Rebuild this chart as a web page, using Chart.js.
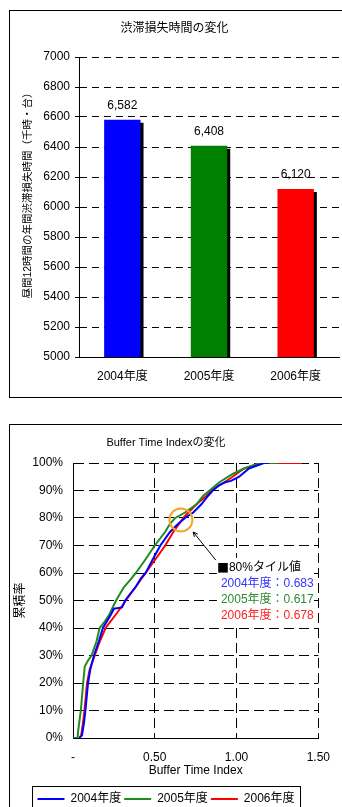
<!DOCTYPE html>
<html lang="ja">
<head>
<meta charset="utf-8">
<title>渋滞損失時間 / Buffer Time Index</title>
<script src="https://cdn.jsdelivr.net/npm/chart.js@4"></script>
<style>
  html, body { margin: 0; padding: 0; background: #fff; overflow: hidden; }
  body { width: 342px; height: 807px; position: relative; }
  .frame { position: absolute; left: 9px; width: 345px; border: 1px solid #000; }
  #frame1 { top: 10px; height: 386px; }
  #frame2 { top: 424px; height: 400px; }
  canvas { display: block; }
</style>
</head>
<body>
<div class="frame" id="frame1"><canvas id="lossChart" width="332" height="385"></canvas></div>
<div class="frame" id="frame2"><canvas id="btiChart" width="332" height="390"></canvas></div>
<script>
const FONT = "'Liberation Sans', 'Noto Sans CJK JP', sans-serif";
Chart.defaults.font.family = FONT;
Chart.defaults.font.size = 12;
Chart.defaults.color = '#000';

// 渋滞損失時間の変化
const fiscalYears = ['2004年度', '2005年度', '2006年度'];
const lossHours = [6582, 6408, 6120];

// Buffer Time Index の累積分布
const btiTickLabels = ['-', '0.50', '1.00', '1.50'];
const bti2004 = [0.04, 0.055, 0.066, 0.076, 0.092, 0.106, 0.128, 0.157, 0.183, 0.233, 0.25, 0.30, 0.319, 0.344, 0.384, 0.414, 0.444, 0.488, 0.534, 0.594, 0.645, 0.685, 0.735, 0.785, 0.825, 0.855, 0.895, 0.93, 0.966, 1.016, 1.076, 1.167, 1.2];
const cum2004 = [0, 1, 5, 10, 20, 25, 30, 35, 40, 45, 47, 47.5, 50, 52, 55, 58, 60, 65, 70, 75, 78, 80, 82, 85, 88, 90, 92, 93, 93.5, 95, 98, 100, 100];
const bti2005 = [0, 0.028, 0.032, 0.048, 0.062, 0.072, 0.09, 0.113, 0.143, 0.163, 0.19, 0.223, 0.263, 0.313, 0.35, 0.384, 0.444, 0.5, 0.564, 0.594, 0.625, 0.685, 0.755, 0.795, 0.835, 0.895, 0.976, 1.046, 1.146, 1.25];
const cum2005 = [0, 0, 2.9, 10, 20, 26, 28, 30, 35, 40, 42, 45, 50, 55, 57.5, 60, 65, 70, 75, 78, 80, 82, 85, 88, 90, 93, 96, 98, 100, 100];
const bti2006 = [0.037, 0.05, 0.06, 0.07, 0.086, 0.102, 0.133, 0.163, 0.199, 0.263, 0.3, 0.323, 0.384, 0.444, 0.504, 0.564, 0.614, 0.675, 0.705, 0.755, 0.815, 0.845, 0.926, 0.976, 1.046, 1.146, 1.40];
const cum2006 = [0, 1, 5, 10, 20, 25, 30, 35, 40, 45, 48, 50, 55, 60, 65, 70, 75, 80, 82, 85, 88, 90, 93, 95, 98, 100, 100];
const percentile80 = [0.683, 0.617, 0.678];

const barColors = ['#0000ff', '#008000', '#ff0000'];
const lineColors = ['#0000ff', '#1e8c1e', '#ff0000'];
const noteColors = ['#3333ff', '#2e8b2e', '#ff2020'];

// bars: black drop shadow, value labels, vertical axis title
const lossDecor = {
    id: 'lossDecor',
    beforeDatasetsDraw(chart) {
        const ctx = chart.ctx;
        ctx.save();
        ctx.shadowColor = '#000';
        ctx.shadowOffsetX = 3;
        ctx.shadowOffsetY = 3;
        ctx.shadowBlur = 0;
    },
    afterDatasetsDraw(chart) {
        const ctx = chart.ctx;
        ctx.restore();
        ctx.save();
        ctx.font = '12px ' + FONT;
        ctx.fillStyle = '#000';
        ctx.textAlign = 'center';
        ctx.textBaseline = 'middle';
        chart.getDatasetMeta(0).data.forEach((bar, i) => {
            ctx.fillText(lossHours[i].toLocaleString('en-US'), bar.x, bar.y - 14);
        });
        ctx.restore();
    },
    afterDraw(chart) {
        const ctx = chart.ctx;
        const y = chart.scales.y;
        ctx.save();
        ctx.translate(18, (y.top + y.bottom) / 2 - 14);
        ctx.rotate(-Math.PI / 2);
        ctx.font = '10.5px ' + FONT;
        ctx.fillStyle = '#000';
        ctx.textAlign = 'center';
        ctx.textBaseline = 'middle';
        ctx.fillText('昼間12時間の年間渋滞損失時間（千時・台）', 0, 0);
        ctx.restore();
    }
};

new Chart(document.getElementById('lossChart'), {
    type: 'bar',
    data: {
        labels: fiscalYears,
        datasets: [{
            data: lossHours,
            backgroundColor: barColors,
            borderWidth: 0,
            categoryPercentage: 1,
            barPercentage: 0.42
        }]
    },
    options: {
        responsive: false,
        animation: false,
        layout: { padding: { left: 0, right: 3, top: 0, bottom: 0 } },
        plugins: {
            legend: { display: false },
            tooltip: { enabled: false },
            title: {
                display: true,
                text: '渋滞損失時間の変化',
                color: '#000',
                font: { size: 12, weight: 'normal' },
                padding: { top: 10, bottom: 21.6 }
            }
        },
        scales: {
            x: {
                grid: { display: false, drawTicks: false },
                border: { display: true, color: '#000' },
                ticks: { padding: 12, color: '#000' },
                afterFit: s => { s.height = 39; }
            },
            y: {
                min: 5000,
                max: 7000,
                ticks: { stepSize: 200, padding: 5, color: '#000', callback: v => String(v) },
                grid: { color: '#000', tickLength: 4, tickColor: '#000' },
                border: { color: '#000', dash: [7, 5] },
                afterFit: s => { s.width = 69; }
            }
        }
    },
    plugins: [lossDecor]
});

// line chart: highlight circle, arrow, note box, legend frame
const btiDecor = {
    id: 'btiDecor',
    afterDraw(chart) {
        const ctx = chart.ctx;
        const xs = chart.scales.x;
        const ys = chart.scales.y;

        // orange circle around the 80% crossing
        ctx.save();
        ctx.strokeStyle = '#f5a428';
        ctx.lineWidth = 2;
        ctx.beginPath();
        ctx.arc(xs.getPixelForValue(0.66), ys.getPixelForValue(79.3), 11.5, 0, Math.PI * 2);
        ctx.stroke();

        // note box
        const boxL = xs.getPixelForValue(0.88);
        const boxT = ys.getPixelForValue(65.5);
        ctx.fillStyle = '#fff';
        ctx.fillRect(boxL, boxT, 97, 68);

        // arrow
        const ax1 = xs.getPixelForValue(0.873), ay1 = ys.getPixelForValue(64.7);
        const ax2 = xs.getPixelForValue(0.735), ay2 = ys.getPixelForValue(74.9);
        ctx.strokeStyle = '#000';
        ctx.lineWidth = 1;
        ctx.beginPath();
        ctx.moveTo(ax1, ay1);
        ctx.lineTo(ax2, ay2);
        const ang = Math.atan2(ay2 - ay1, ax2 - ax1);
        ctx.moveTo(ax2 - 5 * Math.cos(ang - 0.45), ay2 - 5 * Math.sin(ang - 0.45));
        ctx.lineTo(ax2, ay2);
        ctx.lineTo(ax2 - 5 * Math.cos(ang + 0.45), ay2 - 5 * Math.sin(ang + 0.45));
        ctx.stroke();

        // note text
        ctx.textAlign = 'left';
        ctx.textBaseline = 'middle';
        ctx.fillStyle = '#000';
        const ty = ys.getPixelForValue(61.8);
        ctx.font = "12px 'Noto Sans CJK JP', sans-serif";
        ctx.fillText('■', boxL, ty);
        const sq = ctx.measureText('■').width;
        ctx.font = '12px ' + FONT;
        ctx.fillText('80%タイル値', boxL + sq, ty);
        percentile80.forEach((v, i) => {
            ctx.fillStyle = noteColors[i];
            ctx.fillText(fiscalYears[i] + '：' + v.toFixed(3), boxL + 4, ty + 16 * (i + 1));
        });

        // legend frame
        const hb = chart.legend.legendHitBoxes;
        if (hb && hb.length) {
            const last = hb[hb.length - 1];
            const l = Math.round(hb[0].left - 5) + 0.5;
            const r = Math.round(last.left + last.width + 5) + 0.5;
            const t = Math.round(hb[0].top - 7) + 0.5;
            ctx.strokeStyle = '#000';
            ctx.lineWidth = 1;
            ctx.strokeRect(l, t, r - l, chart.height + 10 - t);
        }
        ctx.restore();
    }
};

const btiSeries = [
    { xs: bti2004, ys: cum2004 },
    { xs: bti2005, ys: cum2005 },
    { xs: bti2006, ys: cum2006 }
];

new Chart(document.getElementById('btiChart'), {
    type: 'line',
    data: {
        datasets: btiSeries.map((s, i) => ({
            label: fiscalYears[i],
            data: s.xs.map((x, j) => ({ x: x, y: s.ys[j] })),
            borderColor: lineColors[i],
            backgroundColor: lineColors[i],
            borderWidth: 2,
            pointRadius: 0,
            tension: 0,
            fill: false
        }))
    },
    options: {
        responsive: false,
        animation: false,
        layout: { padding: { left: 0, right: 20, top: 0, bottom: 0 } },
        plugins: {
            tooltip: { enabled: false },
            title: {
                display: true,
                text: 'Buffer Time Indexの変化',
                color: '#000',
                font: { size: 11, weight: 'normal' },
                padding: { top: 11.4, bottom: 13.4 }
            },
            legend: {
                position: 'bottom',
                labels: {
                    usePointStyle: true,
                    pointStyle: 'line',
                    pointStyleWidth: 27,
                    padding: 3,
                    color: '#000',
                    font: { size: 12 }
                }
            }
        },
        scales: {
            x: {
                type: 'linear',
                min: 0,
                max: 1.5,
                ticks: { stepSize: 0.5, padding: 12, color: '#000', callback: (v, i) => btiTickLabels[i] },
                grid: { color: '#000', drawTicks: false },
                border: { color: '#000', dash: [10, 5] },
                title: { display: true, text: 'Buffer Time Index', color: '#000', padding: { top: 0, bottom: 12 } },
                afterFit: s => { s.height = 52; }
            },
            y: {
                min: 0,
                max: 100,
                ticks: { stepSize: 10, padding: 10, color: '#000', callback: v => v + '%' },
                grid: { color: '#000', drawTicks: false },
                border: { color: '#000', dash: [10, 5] },
                title: { display: true, text: '累積率', color: '#000', padding: { top: 3, bottom: 0 } },
                afterFit: s => { s.width = 63; }
            }
        }
    },
    plugins: [btiDecor]
});
</script>
</body>
</html>
